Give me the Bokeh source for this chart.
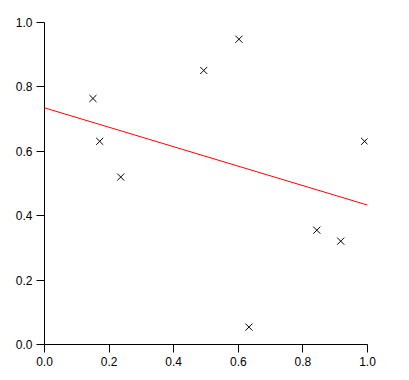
from bokeh.plotting import figure
from bokeh.models import Range1d, FixedTicker, NumeralTickFormatter
from bokeh.embed import file_html
from bokeh.resources import INLINE

# Scatter data
pts_x = [0.150, 0.171, 0.236, 0.493, 0.602, 0.633, 0.843, 0.917, 0.991]
pts_y = [0.764, 0.631, 0.520, 0.851, 0.948, 0.054, 0.355, 0.321, 0.631]

# Fitted (red) line endpoints
line_x = [0.0, 1.0]
line_y = [0.735, 0.433]

ticks = [0.0, 0.2, 0.4, 0.6, 0.8, 1.0]

p = figure(width=401, height=372, output_backend="svg", toolbar_location=None,
           x_range=Range1d(0, 1), y_range=Range1d(0, 1),
           min_border_left=44, min_border_right=34, min_border_top=22, min_border_bottom=28)
p.outline_line_color = None
p.grid.visible = False
p.background_fill_color = "white"
p.border_fill_color = "white"

for ax in (p.xaxis, p.yaxis):
    ax.ticker = FixedTicker(ticks=ticks)
    ax.formatter = NumeralTickFormatter(format="0.0")
    ax.axis_line_color = "black"
    ax.axis_line_width = 1
    ax.major_tick_line_color = "black"
    ax.major_tick_in = 0
    ax.major_tick_out = 8
    ax.minor_tick_line_color = None
    ax.major_label_text_font = "Liberation Sans"
    ax.major_label_text_font_size = "12px"
    ax.major_label_text_color = "black"
    ax.major_label_standoff = 4

p.line(line_x, line_y, line_color="red", line_width=1)
p.scatter(pts_x, pts_y, marker="x", size=10, line_color="black", line_width=1)

open("out.html", "w").write(file_html(p, INLINE))
